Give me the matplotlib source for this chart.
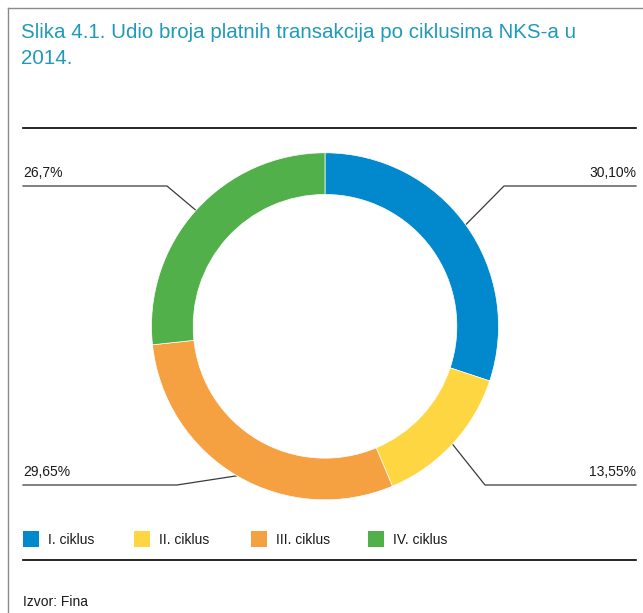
import numpy as np
import matplotlib
matplotlib.use('Agg')
import matplotlib.pyplot as plt
from matplotlib.patches import Rectangle

# Udio broja platnih transakcija po ciklusima NKS-a u 2014.
ciklusi = ['I. ciklus', 'II. ciklus', 'III. ciklus', 'IV. ciklus']
udio = [30.10, 13.55, 29.65, 26.7]
oznake = ['30,10%', '13,55%', '29,65%', '26,7%']
boje = ['#0288cc', '#fed642', '#f5a041', '#52b04a']

W, H = 643, 613
fig = plt.figure(figsize=(W / 100, H / 100), dpi=100)
plt.rcParams['font.family'] = ['Liberation Sans', 'DejaVu Sans']

# pozadinska os u pikselima (y raste prema dolje)
ax = fig.add_axes([0, 0, 1, 1])
ax.set_xlim(0, W)
ax.set_ylim(H, 0)
ax.axis('off')

# okvir lijevo i gore
ax.plot([8, 8], [8, H], color='#8a8a8a', lw=1.0)
ax.plot([8, W], [8, 8], color='#8a8a8a', lw=1.0)

naslov_boja = '#1f9ab8'
ax.text(21, 38, 'Slika 4.1. Udio broja platnih transakcija po ciklusima NKS-a u',
        color=naslov_boja, fontsize=14.8, va='baseline', ha='left')
ax.text(21, 64, '2014.', color=naslov_boja, fontsize=14.8, va='baseline', ha='left')

ax.plot([23, 636], [128, 128], color='black', lw=1.2)
ax.plot([23, 636], [560, 560], color='black', lw=1.2)

# prsten
cx, cy, R = 325, 326.3, 173.5
ax_pie = fig.add_axes([(cx - R) / W, (H - cy - R) / H, 2 * R / W, 2 * R / H])
ax_pie.pie(udio, colors=boje, startangle=90, counterclock=False, radius=1,
           wedgeprops=dict(width=0.24, edgecolor='white', linewidth=0.5))
ax_pie.set_xlim(-1, 1)
ax_pie.set_ylim(-1, 1)
ax_pie.axis('off')

# linije do oznaka: lom i kraj linije, poravnanje teksta
lom = [(504, 186), (485, 485), (177, 485), (167, 186)]
kraj_x = [636, 636, 23, 23]
poravnanje = ['right', 'right', 'left', 'left']

kut = 90.0
for i, v in enumerate(udio):
    sirina = v / sum(udio) * 360
    sredina = np.deg2rad(kut - sirina / 2)
    kut -= sirina
    x0 = cx + R * np.cos(sredina)
    y0 = cy - R * np.sin(sredina)
    lx, ly = lom[i]
    ax.plot([x0, lx, kraj_x[i]], [y0, ly, ly], color='#3a3a3a', lw=0.9)
    ax.text(kraj_x[i], ly - 9, oznake[i], ha=poravnanje[i], va='baseline',
            fontsize=10, color='#1a1a1a')

# legenda
leg_x = [23, 134, 251, 368]
for x, naziv, c in zip(leg_x, ciklusi, boje):
    ax.add_patch(Rectangle((x, 531), 16, 16, facecolor=c, edgecolor='none'))
    ax.text(x + 25, 539.5, naziv, va='center', ha='left', fontsize=10,
            color='#1a1a1a')

ax.text(23, 606, 'Izvor: Fina', va='baseline', ha='left', fontsize=10, color='#1a1a1a')

fig.savefig('out.png', dpi=100)
